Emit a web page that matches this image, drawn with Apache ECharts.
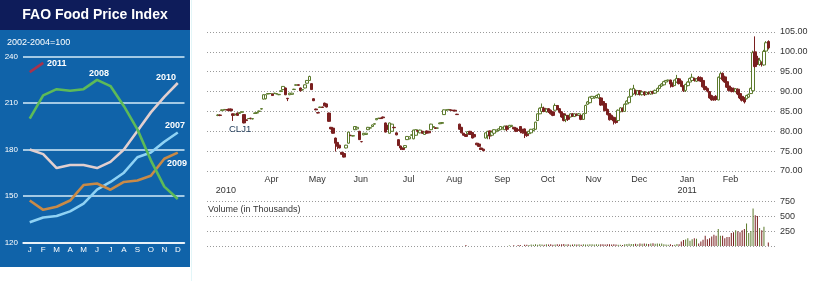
<!DOCTYPE html>
<html>
<head>
<meta charset="utf-8">
<script src="https://cdn.jsdelivr.net/npm/echarts@6/dist/echarts.min.js"></script>
<style>
html,body{margin:0;padding:0;background:#ffffff;}
#chart{width:817px;height:281px;}
</style>
</head>
<body>
<div id="chart"></div>
<script>
// ---------------- FAO Food Price Index (2002-2004=100) ----------------
const faoMonths = ['J','F','M','A','M','J','J','A','S','O','N','D'];
const fao2007 = [133,136,137,140,145,154,159,165,175,178,185,191];
const fao2008 = [200,215,219,218,219,225,221,208,193,173,156,148];
const fao2009 = [147,141,143,147,157,158,154,159,160,163,174,178];
const fao2010 = [180,177,168,170,170,168,172,180,192,204,214,223];
const fao2011 = [230,236];

// ---------------- CLJ1 daily candles [open, close, low, high] ----------------
const tradeStart = '2010-03-03';
const tradeEnd = '2011-03-03';
const holidays = ['2010-04-02','2010-05-31','2010-07-05','2010-09-06','2010-11-25','2010-12-24','2011-01-17','2011-02-21'];
const monthNames = ['Jan','Feb','Mar','Apr','May','Jun','Jul','Aug','Sep','Oct','Nov','Dec'];

const ohlcMar10 = [[84.0,84.1,83.8,84.3],[84.1,84.0,83.8,84.2],[85.2,85.4,85.1,85.5],[85.4,85.5,85.3,85.6],[85.4,85.4,85.3,85.5],
 [85.6,85.2,85.1,85.7],[85.6,85.2,85.0,85.7],[84.4,84.0,82.6,84.5],[84.2,84.3,84.0,84.4],[84.6,84.0,83.9,84.7],
 [84.5,84.7,84.4,84.8],[84.8,84.9,84.7,85.0],[84.2,82.1,82.0,84.3],[82.9,82.7,82.6,83.0],[83.2,83.2,83.1,83.3],
 [83.3,83.2,83.0,83.4],[83.1,83.2,83.0,83.3],[84.5,84.6,84.4,84.7],[84.6,84.7,84.5,84.8],[85.0,85.1,84.9,85.2],
 [85.6,85.7,85.5,85.8]];
const ohlcApr10 = [[88.1,89.2,88.0,89.3],[88.2,89.2,88.0,89.3],[89.4,89.5,89.3,89.6],[89.5,89.5,89.4,89.6],[89.4,89.0,88.9,89.5],
 [89.5,89.6,89.4,89.7],[89.4,89.5,89.3,89.6],[89.2,89.3,89.1,89.4],[90.0,90.2,89.9,90.3],[90.5,91.3,90.4,91.4],
 [90.9,89.2,89.1,91.0],[88.3,88.2,87.6,88.4],[89.2,89.6,89.1,89.7],[89.3,89.6,89.2,89.7],[90.5,90.6,90.4,90.7],
 [91.6,91.7,91.5,91.8],[91.7,91.6,91.5,91.8],[90.9,90.2,90.0,91.0],[90.4,90.5,90.3,90.6],[90.9,91.7,90.8,91.8],
 [92.1,92.8,92.0,92.9]];
const ohlcMay10 = [[92.8,93.8,92.7,94.0],[92.0,90.5,90.4,92.1],[88.2,87.7,87.6,88.3],[85.6,85.4,85.3,85.7],[84.7,84.6,84.5,84.8],
 [86.0,86.1,85.9,86.2],[86.1,86.0,85.9,86.2],[87.1,86.4,86.3,87.2],[86.9,86.1,86.0,87.0],[84.6,82.5,82.4,84.7],
 [81.0,80.6,80.5,81.1],[80.8,79.5,79.4,80.9],[78.3,77.0,74.9,78.4],[77.2,76.2,75.5,77.3],[76.5,75.8,75.7,76.6],
 [74.7,74.2,74.1,74.8],[74.4,73.5,73.4,74.5],[75.8,76.5,75.7,76.6],[77.0,79.8,76.9,79.9],[79.0,78.9,78.8,79.1]];
const ohlcJun10 = [[78.8,78.9,78.7,79.0],[80.4,81.2,80.3,81.3],[80.6,81.0,80.5,81.1],[80.0,77.9,77.8,80.1],[77.4,77.4,77.2,77.5],
 [79.1,79.5,79.0,79.6],[79.2,79.5,79.1,79.6],[80.4,81.0,80.3,81.1],[80.8,80.9,80.7,81.0],[81.2,81.6,81.1,81.7],
 [81.8,81.9,81.7,82.0],[82.9,83.2,82.8,83.3],[83.2,83.3,83.1,83.4],[83.3,83.2,83.1,83.4],[83.6,83.4,83.3,83.7],
 [82.1,79.8,79.7,82.2],[81.5,80.5,80.4,81.6],[79.5,82.1,79.4,82.2],[80.0,81.8,79.9,81.9],[81.0,80.9,80.8,81.1],
 [79.6,79.1,79.0,79.7],[77.9,76.4,76.3,78.0]];
const ohlcJul10 = [[76.3,75.8,75.3,76.4],[75.8,75.4,75.3,75.9],[75.9,76.4,75.8,76.5],[77.9,78.7,77.8,78.8],[78.1,78.6,78.0,78.7],
 [79.0,79.1,78.9,79.2],[78.1,80.3,78.0,80.4],[79.0,80.4,78.9,80.5],[80.2,80.0,79.9,80.3],[79.6,80.3,79.5,80.4],
 [80.0,79.5,79.4,80.1],[79.2,79.8,79.1,79.9],[80.1,79.5,79.4,80.2],[80.0,79.6,79.5,80.1],[80.4,81.8,80.3,81.9],
 [81.0,81.2,80.9,81.3],[80.9,80.7,80.6,81.0],[80.8,80.8,80.7,80.9],[81.9,82.1,81.8,82.2],[82.0,82.2,81.9,82.3],
 [84.2,85.4,84.1,85.5]];
const ohlcAug10 = [[85.3,85.4,85.2,85.5],[85.4,85.5,85.3,85.6],[85.4,85.3,85.2,85.5],[85.3,85.2,85.1,85.4],[85.3,85.1,85.0,85.4],
 [84.3,84.2,84.1,84.4],[81.8,80.5,80.4,81.9],[81.0,79.6,79.5,81.1],[79.5,79.0,78.9,79.6],[79.2,78.7,78.6,79.3],
 [79.4,79.9,79.3,80.0],[80.0,79.2,79.1,80.1],[79.7,78.3,78.2,79.8],[79.2,78.6,78.5,79.3],[77.0,76.6,76.5,77.1],
 [76.8,76.2,76.1,76.9],[75.8,75.4,75.3,75.9],[75.5,75.1,75.0,75.6],[78.3,79.6,78.2,79.7],[79.0,80.0,78.0,80.1],
 [80.1,78.8,78.0,80.2],[79.0,79.8,78.9,79.9]];
const ohlcSep10 = [[79.5,80.4,79.4,80.5],[79.9,80.3,79.8,80.4],[80.2,80.6,80.1,80.7],[80.4,81.2,80.3,81.3],[80.6,81.0,80.5,81.1],
 [80.4,81.3,80.3,81.4],[81.3,80.5,80.0,81.4],[81.0,81.5,80.9,81.6],[81.2,81.5,81.1,81.6],[81.0,80.6,80.5,81.1],
 [80.8,80.0,79.8,80.9],[80.4,80.2,79.9,80.5],[81.2,80.0,79.5,81.3],[80.5,79.6,79.4,80.6],[80.6,79.5,78.3,80.7],
 [79.8,78.9,78.6,79.9],[79.4,80.0,79.3,80.1],[79.6,80.5,79.5,80.6],[80.2,80.6,80.0,80.7],[80.5,82.3,80.4,82.4],
 [82.7,84.4,82.6,84.5]];
const ohlcOct10 = [[84.4,85.8,84.3,86.0],[85.0,86.0,84.9,87.0],[85.8,85.0,84.8,86.2],[84.9,85.6,84.7,85.8],[85.7,84.9,84.6,85.8],
 [85.3,84.4,84.2,85.5],[84.9,84.0,83.8,85.0],[85.3,86.5,85.2,87.0],[86.5,85.5,85.3,86.6],[85.7,84.8,84.5,85.8],
 [84.9,83.6,83.4,85.0],[84.4,82.7,82.5,84.5],[82.9,84.0,82.3,84.1],[84.0,83.0,82.6,84.1],[83.6,84.4,83.5,84.5],
 [84.4,83.8,83.6,84.6],[83.7,84.4,83.6,84.5],[84.3,84.0,83.8,84.5],[84.0,84.4,83.9,84.6],[84.0,83.0,82.8,84.1],
 [83.0,84.4,82.9,84.6]];
const ohlcNov10 = [[84.5,86.5,84.4,86.7],[86.8,87.4,86.6,87.6],[87.2,88.6,87.0,88.7],[88.3,88.8,88.2,88.9],[88.4,88.7,88.2,88.9],
 [88.5,89.0,88.3,89.2],[88.4,89.3,88.2,89.5],[88.4,86.6,86.4,88.6],[87.5,86.8,86.5,87.8],[87.0,85.2,85.0,87.2],
 [85.5,84.2,84.0,85.7],[84.5,82.9,82.7,84.6],[84.0,83.2,82.8,84.2],[83.5,82.6,81.7,83.7],[82.8,82.2,81.9,83.3],
 [82.7,85.3,82.6,85.5],[84.9,85.9,84.8,86.1],[85.8,85.1,84.8,86.0],[85.0,86.8,84.9,87.0],[86.9,87.6,86.7,87.8],
 [87.2,88.6,87.0,88.8]];
const ohlcDec10 = [[88.8,90.6,88.7,90.8],[89.4,90.8,89.2,91.7],[90.3,89.5,89.0,90.5],[89.3,90.2,89.1,90.4],[90.2,89.3,89.0,90.4],
 [89.2,89.9,89.0,90.1],[89.9,89.2,88.9,90.1],[89.3,89.8,89.1,90.0],[89.7,89.5,89.2,90.0],[89.4,90.0,89.2,90.2],
 [90.0,89.6,89.3,90.2],[89.6,90.3,89.4,90.5],[90.0,90.8,89.9,91.0],[90.8,91.5,90.6,91.7],[91.4,91.9,91.2,92.1],
 [91.7,92.5,91.5,92.7],[92.4,92.8,92.3,92.9],[92.7,92.9,92.5,93.0],[92.9,91.9,91.0,93.0],[92.1,91.3,91.1,92.3],
 [91.5,92.9,91.4,93.0],[92.4,93.3,92.2,94.2]];
const ohlcJan11 = [[93.2,92.0,91.8,93.4],[92.6,91.3,91.1,92.8],[91.4,90.2,89.9,91.6],[90.3,91.8,89.9,92.0],[91.5,92.4,91.3,92.6],
 [92.4,93.3,92.2,93.5],[92.8,93.6,92.6,94.5],[93.3,92.8,92.5,93.5],[92.6,93.2,92.4,93.4],[93.6,92.8,92.6,93.9],
 [93.5,92.6,92.4,93.8],[92.8,91.2,91.0,93.0],[91.3,90.5,90.3,91.5],[90.8,90.1,89.8,91.0],[90.0,88.4,88.2,90.1],
 [89.0,87.9,87.7,89.2],[88.6,87.9,87.7,88.8],[88.8,88.0,87.7,89.1],[87.9,93.6,87.8,93.8],[93.4,94.5,93.2,94.9]];
const ohlcFeb11 = [[94.6,93.0,92.6,94.8],[93.7,92.4,92.2,94.0],[92.5,91.1,90.9,92.7],[91.4,90.3,90.0,91.6],[90.9,90.0,89.8,91.1],
 [90.8,90.1,89.8,91.0],[90.0,90.7,89.8,90.9],[90.6,89.4,89.1,90.8],[89.5,88.4,88.1,89.6],[88.8,87.8,87.5,89.0],
 [88.4,87.4,87.0,88.6],[88.2,89.0,88.0,89.2],[88.6,89.3,88.4,89.5],[89.5,90.8,89.4,91.0],[90.2,99.8,89.9,100.3],
 [100.0,96.3,96.0,103.9],[98.4,97.2,96.7,99.0],[96.8,97.9,96.5,98.5],[97.0,96.9,96.3,97.6]];
const ohlcMar11 = [[96.7,100.1,96.5,100.5],[100.2,102.3,99.9,102.7],[102.6,101.0,100.6,102.9]];

// ---------------- Volume (thousands) ----------------
const volMar10 = [0,0,0,0,0,0,0,0,0,0,0,0,0,0,0,0,0,0,0,0,0];
const volApr10 = [0,0,0,0,0,0,0,0,0,0,0,0,0,0,0,0,0,0,0,0,0];
const volMay10 = [0,0,0,0,0,0,0,0,0,0,0,0,0,0,0,0,0,0,0,0];
const volJun10 = [0,0,0,0,0,0,0,0,0,0,0,0,0,0,0,0,0,0,0,0,0,0];
const volJul10 = [0,0,0,0,0,0,0,0,0,0,0,0,0,0,0,0,0,0,0,0,0];
const volAug10 = [0,0,0,0,0,0,0,0,0,15,0,0,0,0,0,0,0,0,0,0,0,0];
const volSep10 = [0,0,0,0,0,0,0,10,0,12,0,15,18,0,20,22,15,25,20,28,22];
const volOct10 = [30,25,20,28,25,30,22,26,30,24,28,32,25,30,22,26,30,24,28,22,30];
const volNov10 = [26,24,30,28,25,30,26,28,30,26,28,30,27,29,26,20,22,15,28,34,36];
const volDec10 = [32,35,38,30,40,36,42,38,35,40,45,38,42,36,40,30,25,20,28,18,22,35];
const volJan11 = [30,74,100,110,130,90,114,132,120,40,74,103,172,114,132,160,189,170,286,172];
const volFeb11 = [172,132,149,149,217,229,263,246,229,263,286,378,217,250,630,515,504,303,263];
const volMar11 = [321,0,57];

const priceMin = 70, priceMax = 105, priceStep = 5;
const volMin = 0, volMax = 750, volStep = 250;

// ---------------- assemble ----------------
const ohlc = [].concat(ohlcMar10, ohlcApr10, ohlcMay10, ohlcJun10, ohlcJul10, ohlcAug10,
  ohlcSep10, ohlcOct10, ohlcNov10, ohlcDec10, ohlcJan11, ohlcFeb11, ohlcMar11);
const volume = [].concat(volMar10, volApr10, volMay10, volJun10, volJul10, volAug10,
  volSep10, volOct10, volNov10, volDec10, volJan11, volFeb11, volMar11);

const dates = [];
(function () {
  const hol = new Set(holidays);
  const s = tradeStart.split('-').map(Number), e = tradeEnd.split('-').map(Number);
  let t = Date.UTC(s[0], s[1] - 1, s[2]);
  const end = Date.UTC(e[0], e[1] - 1, e[2]);
  while (t <= end) {
    const d = new Date(t);
    const wd = d.getUTCDay();
    const iso = d.toISOString().slice(0, 10);
    if (wd !== 0 && wd !== 6 && !hol.has(iso)) dates.push(iso);
    t += 86400000;
  }
})();

const PRE = 5, POST = 4;
const cats = [];
for (let i = 0; i < PRE; i++) cats.push('pre' + i);
dates.forEach(d => cats.push(d));
for (let i = 0; i < POST; i++) cats.push('post' + i);

const empty4 = ['-', '-', '-', '-'];
const candleData = [];
const volData = [];
for (let i = 0; i < PRE; i++) { candleData.push(empty4); volData.push('-'); }
ohlc.forEach(r => candleData.push(r));
volume.forEach(v => volData.push(v));
for (let i = 0; i < POST; i++) { candleData.push(empty4); volData.push('-'); }

// month-start labels (first trading day of Apr 2010 ... Feb 2011), plus the year under the start
const labelText = {};
labelText[PRE] = '\n2010';
for (let j = 1; j < dates.length; j++) {
  const m = dates[j].slice(0, 7), pm = dates[j - 1].slice(0, 7);
  if (m !== pm && m <= '2011-02') {
    const mi = Number(dates[j].slice(5, 7)) - 1;
    labelText[PRE + j] = mi === 0 ? monthNames[mi] + '\n' + dates[j].slice(0, 4) : monthNames[mi];
  }
}

const UP = '#5c7a2c', DOWN = '#7a1f1f';
const F = '"Liberation Sans", Arial, sans-serif';
const dotted = { color: '#9a9a9a', type: [1, 2], width: 1 };

const chart = echarts.init(document.getElementById('chart'), null, { renderer: 'canvas' });
chart.setOption({
  animation: false,
  backgroundColor: '#ffffff',
  textStyle: { fontFamily: F },
  grid: [
    { left: 23, top: 56.7, width: 161.5, height: 185.6, outerBoundsMode: 'none', containLabel: false },
    { left: 207, top: 32, width: 570, height: 139, outerBoundsMode: 'none', containLabel: false },
    { left: 207, top: 201.3, width: 570, height: 44.7, outerBoundsMode: 'none', containLabel: false }
  ],
  xAxis: [
    { type: 'category', gridIndex: 0, data: faoMonths, boundaryGap: true,
      axisLine: { lineStyle: { color: '#ffffff', width: 1.5 } },
      axisTick: { alignWithLabel: true, inside: true, length: 5, lineStyle: { color: '#ffffff', width: 1 } },
      axisLabel: { color: '#ffffff', fontSize: 8, margin: 3, interval: 0, fontFamily: F } },
    { type: 'category', gridIndex: 1, data: cats, boundaryGap: false,
      axisLine: { show: false }, axisTick: { show: false }, splitLine: { show: false },
      axisLabel: { show: true, interval: (idx) => labelText[idx] !== undefined,
        formatter: (v, idx) => labelText[idx] || '',
        color: '#333333', fontSize: 9, lineHeight: 11, margin: 3, align: 'center', padding: [0, 0, 0, 16], fontFamily: F } },
    { type: 'category', gridIndex: 2, data: cats, boundaryGap: false,
      axisLine: { show: false }, axisTick: { show: false }, axisLabel: { show: false }, splitLine: { show: false } }
  ],
  yAxis: [
    { type: 'value', gridIndex: 0, min: 120, max: 240, interval: 30,
      axisLine: { show: false }, axisTick: { show: false },
      splitLine: { lineStyle: { color: '#d4ebf8', width: 1.5 } },
      axisLabel: { color: '#ffffff', fontSize: 8, margin: 5, fontFamily: F } },
    { type: 'value', gridIndex: 1, position: 'right', min: priceMin, max: priceMax, interval: priceStep,
      axisLine: { show: false }, axisTick: { show: false },
      splitLine: { lineStyle: dotted },
      axisLabel: { color: '#333333', fontSize: 9, margin: 3, formatter: v => v.toFixed(2), fontFamily: F } },
    { type: 'value', gridIndex: 2, position: 'right', min: volMin, max: volMax, interval: volStep,
      axisLine: { show: false }, axisTick: { show: false },
      splitLine: { lineStyle: dotted },
      axisLabel: { color: '#333333', fontSize: 9, margin: 3, showMinLabel: false, fontFamily: F } }
  ],
  series: [
    { name: '2010', type: 'line', xAxisIndex: 0, yAxisIndex: 0, data: fao2010, symbol: 'none',
      lineStyle: { color: '#e2cfcf', width: 2.6 }, z: 3 },
    { name: '2007', type: 'line', xAxisIndex: 0, yAxisIndex: 0, data: fao2007, symbol: 'none',
      lineStyle: { color: '#8fd2f4', width: 2.6 }, z: 3 },
    { name: '2009', type: 'line', xAxisIndex: 0, yAxisIndex: 0, data: fao2009, symbol: 'none',
      lineStyle: { color: '#c98a47', width: 2.6 }, z: 3 },
    { name: '2011', type: 'line', xAxisIndex: 0, yAxisIndex: 0, data: fao2011, symbol: 'none',
      lineStyle: { color: '#a8324c', width: 2.6 }, z: 3 },
    { name: '2008', type: 'line', xAxisIndex: 0, yAxisIndex: 0, data: fao2008, symbol: 'none',
      lineStyle: { color: '#5dba58', width: 2.6 }, z: 4 },
    { name: 'CLJ1', type: 'candlestick', xAxisIndex: 1, yAxisIndex: 1, data: candleData, barWidth: 3,
      itemStyle: { color: '#ffffff', color0: DOWN, borderColor: UP, borderColor0: DOWN, borderWidth: 1 } },
    { name: 'Volume', type: 'bar', xAxisIndex: 2, yAxisIndex: 2, data: volData, barWidth: 1,
      itemStyle: { color: (p) => {
        const r = candleData[p.dataIndex];
        return (r && r[0] !== '-' && r[1] < r[0]) ? DOWN : UP;
      } } }
  ],
  graphic: [
    { type: 'rect', z: -10, shape: { x: 0, y: 0, width: 190, height: 30 }, style: { fill: '#0e1c5a' } },
    { type: 'rect', z: -10, shape: { x: 0, y: 30, width: 190, height: 237 }, style: { fill: '#1063a9' } },
    { type: 'rect', z: -10, shape: { x: 191, y: 0, width: 1, height: 281 }, style: { fill: '#e2f6f8' } },
    { type: 'text', z: 50, x: 95, y: 15, style: { text: 'FAO Food Price Index', fill: '#ffffff',
        font: 'bold 14px ' + F, align: 'center', verticalAlign: 'middle' } },
    { type: 'text', z: 50, x: 7, y: 43, style: { text: '2002-2004=100', fill: '#ffffff',
        font: '9px ' + F, align: 'left', verticalAlign: 'middle' } },
    { type: 'text', z: 50, x: 47, y: 64, style: { text: '2011', fill: '#ffffff', font: 'bold 9px ' + F, align: 'left', verticalAlign: 'middle' } },
    { type: 'text', z: 50, x: 89, y: 73.5, style: { text: '2008', fill: '#ffffff', font: 'bold 9px ' + F, align: 'left', verticalAlign: 'middle' } },
    { type: 'text', z: 50, x: 156, y: 78, style: { text: '2010', fill: '#ffffff', font: 'bold 9px ' + F, align: 'left', verticalAlign: 'middle' } },
    { type: 'text', z: 50, x: 165, y: 126, style: { text: '2007', fill: '#ffffff', font: 'bold 9px ' + F, align: 'left', verticalAlign: 'middle' } },
    { type: 'text', z: 50, x: 167, y: 164, style: { text: '2009', fill: '#ffffff', font: 'bold 9px ' + F, align: 'left', verticalAlign: 'middle' } },
    { type: 'text', z: 50, x: 229, y: 129.5, style: { text: 'CLJ1', fill: '#1f3a58', font: '9.5px ' + F, align: 'left', verticalAlign: 'middle' } },
    { type: 'text', z: 50, x: 208, y: 210, style: { text: 'Volume (in Thousands)', fill: '#333333', font: '9px ' + F, align: 'left', verticalAlign: 'middle' } }
  ]
});
</script>
</body>
</html>
